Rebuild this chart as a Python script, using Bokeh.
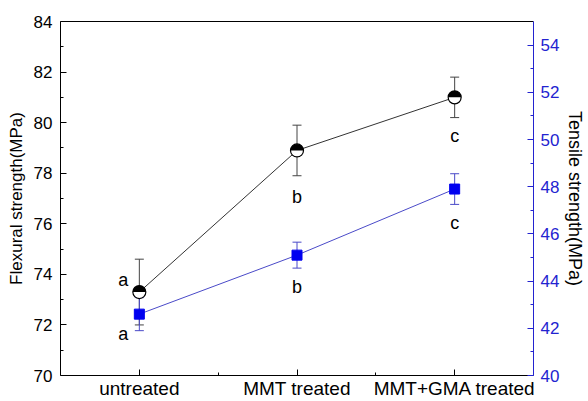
import math
from bokeh.plotting import figure
from bokeh.models import (Range1d, LinearAxis, FixedTicker, Whisker, TeeHead,
                          ColumnDataSource)
from bokeh.core.properties import value
from bokeh.embed import file_html
from bokeh.resources import INLINE

categories = ["untreated", "MMT treated", "MMT+GMA treated"]
xpos = [1, 2, 3]
flex = [73.3, 78.9, 81.0]
flex_err = [1.3, 1.0, 0.8]
tens = [42.6, 45.1, 47.9]
tens_err = [0.7, 0.55, 0.65]
flex_letters = ["a", "b", "c"]
tens_letters = ["a", "b", "c"]
left_ticks = [70, 72, 74, 76, 78, 80, 82, 84]
right_ticks = [40, 42, 44, 46, 48, 50, 52, 54]

FONT = "Liberation Sans"
BLUE_AX = "#2323d0"
BLUE_LINE = "#4a4ac8"
BLUE_MK = "#0000f0"

p = figure(width=588, height=401, output_backend="svg", toolbar_location=None,
           x_range=Range1d(0.5, 3.5), y_range=Range1d(70, 84),
           min_border_left=60, min_border_right=52, min_border_top=21,
           min_border_bottom=25)
p.outline_line_color = None
p.grid.visible = False
p.background_fill_color = "white"
p.border_fill_color = "white"
p.extra_y_ranges = {"right": Range1d(40, 55)}

# bottom axis
xa = p.xaxis[0]
xa.ticker = FixedTicker(ticks=xpos, minor_ticks=[1.5, 2.5])
xa.major_label_overrides = {x: c for x, c in zip(xpos, categories)}
xa.major_label_text_font = FONT
xa.major_label_text_font_size = "19px"
xa.major_label_text_color = "black"
xa.major_label_standoff = 2
xa.major_tick_in = 6
xa.major_tick_out = 0
xa.minor_tick_in = 3
xa.minor_tick_out = 0
xa.axis_line_color = "black"
xa.major_tick_line_color = "black"
xa.minor_tick_line_color = "black"

# left axis
ya = p.yaxis[0]
ya.ticker = FixedTicker(ticks=left_ticks, minor_ticks=[71, 73, 75, 77, 79, 81, 83])
ya.axis_label = "Flexural strength(MPa)"
ya.axis_label_text_font = FONT
ya.axis_label_text_font_size = "17px"
ya.axis_label_text_font_style = "normal"
ya.axis_label_text_color = "black"
ya.axis_label_standoff = 5
ya.major_label_text_font = FONT
ya.major_label_text_font_size = "17px"
ya.major_label_text_color = "black"
ya.major_label_standoff = 8
ya.major_tick_in = 6
ya.major_tick_out = 0
ya.minor_tick_in = 3
ya.minor_tick_out = 0
ya.axis_line_color = "black"
ya.major_tick_line_color = "black"
ya.minor_tick_line_color = "black"

# right axis
ra = LinearAxis(y_range_name="right",
                ticker=FixedTicker(ticks=right_ticks,
                                   minor_ticks=[41, 43, 45, 47, 49, 51, 53]))
ra.axis_label = "Tensile strength(MPa)"
ra.axis_label_text_font = FONT
ra.axis_label_text_font_size = "18px"
ra.axis_label_text_font_style = "normal"
ra.axis_label_text_color = "black"
ra.axis_label_standoff = 3
ra.major_label_text_font = FONT
ra.major_label_text_font_size = "17px"
ra.major_label_text_color = BLUE_AX
ra.major_label_standoff = 7
ra.major_tick_in = 6
ra.major_tick_out = 0
ra.minor_tick_in = 3
ra.minor_tick_out = 0
ra.axis_line_color = BLUE_AX
ra.major_tick_line_color = BLUE_AX
ra.minor_tick_line_color = BLUE_AX
p.add_layout(ra, "right")

# top frame line
ta = LinearAxis(ticker=FixedTicker(ticks=[]))
ta.major_tick_in = 0
ta.major_tick_out = 0
ta.minor_tick_in = 0
ta.minor_tick_out = 0
ta.axis_line_color = "black"
p.add_layout(ta, "above")

# data sources
fsrc = ColumnDataSource(dict(x=xpos, y=flex,
                             up=[v + e for v, e in zip(flex, flex_err)],
                             lo=[v - e for v, e in zip(flex, flex_err)],
                             lab=flex_letters,
                             dx=[-16, 0, 0], dy=[-12, 47, 39]))
tsrc = ColumnDataSource(dict(x=xpos, y=tens,
                             up=[v + e for v, e in zip(tens, tens_err)],
                             lo=[v - e for v, e in zip(tens, tens_err)],
                             lab=tens_letters,
                             dx=[-16, 0, 0], dy=[20, 32, 34]))

# error bars
wf = Whisker(source=fsrc, base="x", upper="up", lower="lo", dimension="height",
             line_color="#444444", line_width=1,
             upper_head=TeeHead(size=9, line_color="#444444", line_width=1),
             lower_head=TeeHead(size=9, line_color="#444444", line_width=1))
wt = Whisker(source=tsrc, base="x", upper="up", lower="lo", dimension="height",
             line_color=BLUE_LINE, line_width=1, y_range_name="right",
             upper_head=TeeHead(size=9, line_color=BLUE_LINE, line_width=1),
             lower_head=TeeHead(size=9, line_color=BLUE_LINE, line_width=1))
p.add_layout(wf)
p.add_layout(wt)

# lines
p.line("x", "y", source=fsrc, line_color="#333333", line_width=1)
p.line("x", "y", source=tsrc, line_color=BLUE_LINE, line_width=1,
       y_range_name="right")

# markers
p.scatter("x", "y", source=tsrc, marker="square", size=10, fill_color=BLUE_MK,
          line_color=BLUE_MK, y_range_name="right")
p.scatter("x", "y", source=fsrc, marker="circle", size=13, fill_color="white",
          line_color=None)
p.wedge("x", "y", source=fsrc, radius=6.5, radius_units="screen",
        start_angle=0, end_angle=math.pi, fill_color="black", line_color=None)
p.scatter("x", "y", source=fsrc, marker="circle", size=13, fill_color=None,
          line_color="black", line_width=1.2)

# significance letters
p.text("x", "y", text="lab", source=fsrc, x_offset="dx", y_offset="dy",
       text_font=value(FONT), text_font_size="18px", text_align="center",
       text_baseline="middle", text_color="black")
p.text("x", "y", text="lab", source=tsrc, x_offset="dx", y_offset="dy",
       text_font=value(FONT), text_font_size="18px", text_align="center",
       text_baseline="middle", text_color="black", y_range_name="right")

open("out.html", "w").write(file_html(p, INLINE))
